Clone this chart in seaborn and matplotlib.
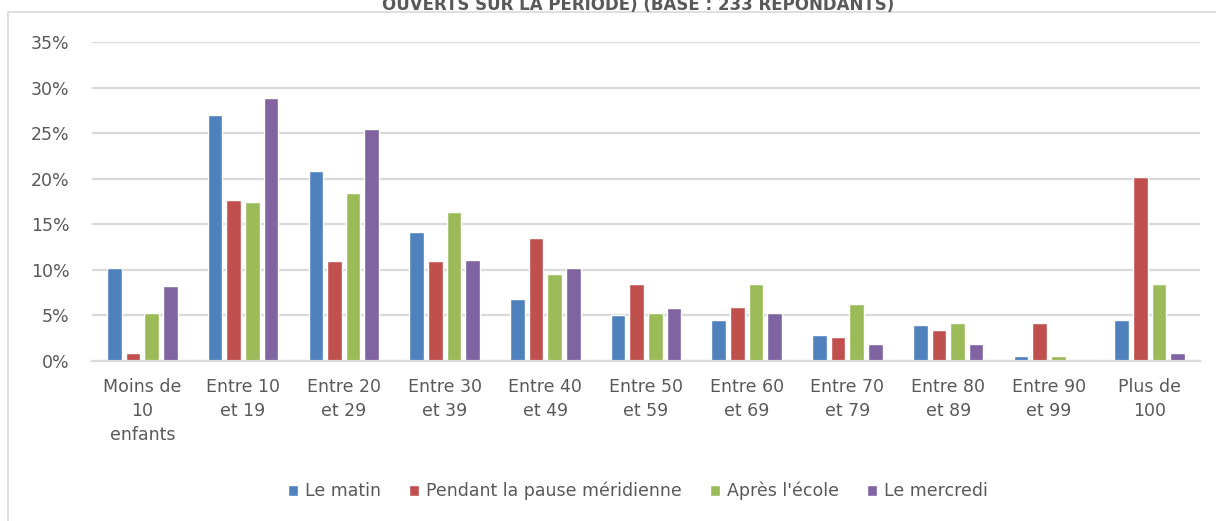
import matplotlib
matplotlib.use("Agg")
import matplotlib.pyplot as plt
import seaborn as sns
import pandas as pd
from matplotlib.ticker import PercentFormatter, MultipleLocator
from matplotlib.patches import Rectangle

categories = ["Moins de\n10\nenfants", "Entre 10\net 19", "Entre 20\net 29", "Entre 30\net 39",
              "Entre 40\net 49", "Entre 50\net 59", "Entre 60\net 69", "Entre 70\net 79",
              "Entre 80\net 89", "Entre 90\net 99", "Plus de\n100"]
series = ["Le matin", "Pendant la pause méridienne", "Après l'école", "Le mercredi"]
matin = [10.2, 27.0, 20.8, 14.1, 6.8, 5.1, 4.5, 2.8, 3.9, 0.6, 4.5]
pause = [0.9, 17.7, 11.0, 11.0, 13.5, 8.4, 5.9, 2.6, 3.4, 4.2, 20.2]
apres = [5.3, 17.4, 18.4, 16.3, 9.5, 5.3, 8.4, 6.3, 4.2, 0.5, 8.4]
mercredi = [8.2, 28.9, 25.5, 11.1, 10.2, 5.8, 5.3, 1.9, 1.9, 0.0, 0.9]
colors = ["#4F81BD", "#C0504D", "#9BBB59", "#8064A2"]
title = "OUVERTS SUR LA PÉRIODE) (BASE : 233 RÉPONDANTS)"

rows = []
for name, vals in zip(series, [matin, pause, apres, mercredi]):
    for c, v in zip(categories, vals):
        rows.append({"cat": c, "serie": name, "val": v / 100})
df = pd.DataFrame(rows)

sns.set_theme(style="white")
plt.rcParams['font.family'] = ['DejaVu Sans']
txt = "#595959"

fig = plt.figure(figsize=(12.16, 5.21), dpi=100)
ax = fig.add_axes([92/1216, 1 - 361/521, (1200-92)/1216, (361-42)/521])
sns.barplot(data=df, x="cat", y="val", hue="serie", hue_order=series, order=categories,
            palette=colors, width=0.74, ax=ax, saturation=1, errorbar=None, legend=True)
for p in ax.patches:
    w = p.get_width()
    if w > 0:
        p.set_x(p.get_x() + 0.02)
        p.set_width(w - 0.04)

ax.set_ylim(0, 0.35)
ax.set_xlim(-0.5, 10.5)
ax.yaxis.set_major_locator(MultipleLocator(0.05))
ax.yaxis.set_major_formatter(PercentFormatter(1.0, decimals=0))
ax.grid(axis="y", color="#D9D9D9", linewidth=1.6)
ax.set_axisbelow(True)
for s in ["left", "right", "top"]:
    ax.spines[s].set_visible(False)
ax.spines["bottom"].set_color("#D9D9D9")
ax.spines["bottom"].set_linewidth(1.6)
ax.set_xlabel("")
ax.set_ylabel("")
ax.tick_params(axis="both", length=0, labelsize=12.5, colors=txt)
ax.tick_params(axis="y", pad=16)
ax.tick_params(axis="x", pad=12)
for lab in ax.get_xticklabels():
    lab.set_linespacing(1.45)
    lab.set_va("top")

handles, labels = ax.get_legend_handles_labels()
ax.legend_.remove()
fig.legend(handles, labels, loc="center", bbox_to_anchor=(638/1216, 1 - 491/521), ncol=4,
           frameon=False, fontsize=12.5, handlelength=0.6, handleheight=0.6,
           columnspacing=1.6, handletextpad=0.4, labelcolor=txt)

fig.patches.append(Rectangle((8/1216, -0.05), 1.1, 1.05 - 12/521, transform=fig.transFigure,
                             fill=False, edgecolor="#D9D9D9", linewidth=1.2))
fig.text(638/1216, 1 - 5/521, title, ha="center", va="center", fontsize=12,
         fontweight="bold", color=txt)

fig.savefig("out.png", dpi=100)
